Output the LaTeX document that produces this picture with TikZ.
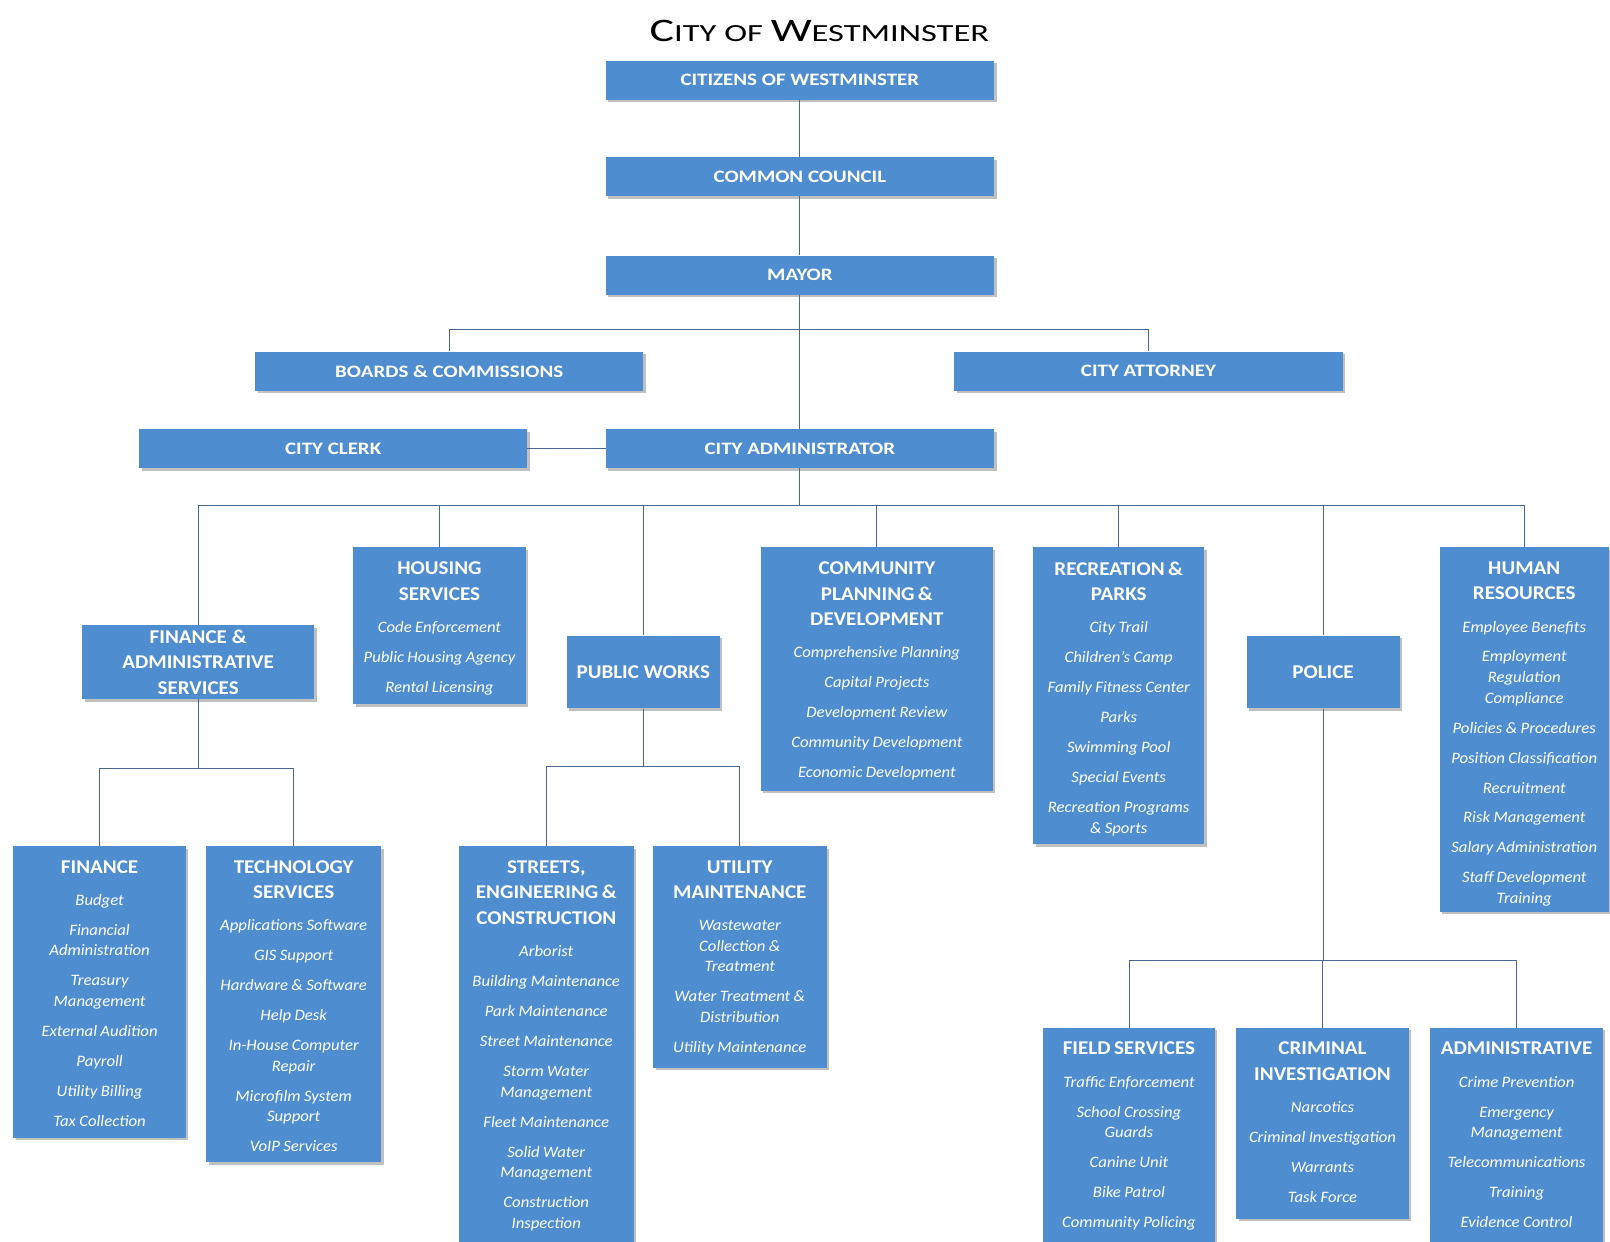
\documentclass[tikz,border=0pt]{standalone}
\usepackage{fontspec}
\setmainfont{Carlito}
\newfontfamily\titlef[FakeStretch=1.4]{Carlito}
\newfontfamily\topf[FakeStretch=1.2]{Carlito}
\newfontfamily\hdf[FakeStretch=1.08]{Carlito}
\newfontfamily\itf[FakeStretch=1.05]{Carlito}
\usetikzlibrary{shadows,fit}
\definecolor{boxblue}{RGB}{79,141,209}
\definecolor{linec}{RGB}{70,105,150}
\newcommand\hdr[1]{{\hdf\bfseries\fontsize{19}{25}\selectfont #1\par}\vspace{2pt}}
\newcommand\itm[1]{\vspace{9.2pt}{\itf\itshape\fontsize{15.5}{20}\selectfont #1\par}}
\tikzset{
  box/.style={fill=boxblue, draw=none, inner sep=0pt,
    drop shadow={shadow xshift=2.5pt, shadow yshift=-2.5pt, opacity=0.35, fill=black!70}},
  toplbl/.style={box, minimum width=378pt, minimum height=38pt, text=white,
    font=\topf\bfseries\fontsize{17}{20}\selectfont},
  hdbox/.style={box, text=white, align=center, font=\hdf\bfseries\fontsize{19}{25}\selectfont},
  txt/.style={text=white, align=center, inner sep=0pt, anchor=north, text width=200pt},
  conn/.style={draw=linec, line width=0.9pt},
}
\begin{document}
\begin{tikzpicture}[x=1pt,y=-1pt]
\useasboundingbox (0,0) rectangle (1568,1209);
\fill[white] (0,0) rectangle (1568,1209);

\node[anchor=base] (title) at (798,40) {\titlef\fontsize{32}{36}\selectfont C\fontsize{24}{28}\selectfont ITY OF \fontsize{32}{36}\selectfont W\fontsize{24}{28}\selectfont ESTMINSTER};

% top chain
\node[toplbl] (cit) at (779,78) {CITIZENS OF WESTMINSTER};
\node[toplbl] (coun) at (779,172) {COMMON COUNCIL};
\node[toplbl] (mayor) at (779,268) {MAYOR};
\node[toplbl] (boards) at (437.5,361.5) {BOARDS \& COMMISSIONS};
\node[toplbl] (atty) at (1118.5,361.5) {CITY ATTORNEY};
\node[toplbl] (clerk) at (324.5,437) {CITY CLERK};
\node[toplbl] (cadm) at (779,437) {CITY ADMINISTRATOR};

% departments
\node[hdbox, minimum width=226pt, minimum height=72pt] (fas) at (193,645) {FINANCE \&\\ADMINISTRATIVE\\SERVICES};
\node[hdbox, minimum width=149pt, minimum height=71pt] (pw) at (626.5,654.5) {PUBLIC WORKS};
\node[hdbox, minimum width=149pt, minimum height=71pt] (pol) at (1288.5,654.5) {POLICE};

\node[box, fit={(344,533) (512,686)}] (hou) {};
\node[txt] at ([yshift=-14pt]hou.north) {\hdr{HOUSING\\SERVICES}\itm{Code Enforcement}\itm{Public Housing Agency}\itm{Rental Licensing}};

\node[box, fit={(741,533) (967,770)}] (cpd) {};
\node[txt] at ([yshift=-14pt]cpd.north) {\hdr{COMMUNITY\\PLANNING \&\\DEVELOPMENT}\itm{Comprehensive Planning}\itm{Capital Projects}\itm{Development Review}\itm{Community Development}\itm{Economic Development}};

\node[box, fit={(1006,533) (1173,822)}] (rec) {};
\node[txt] at ([yshift=-14pt]rec.north) {\hdr{RECREATION \&\\PARKS}\itm{City Trail}\itm{Children’s Camp}\itm{Family Fitness Center}\itm{Parks}\itm{Swimming Pool}\itm{Special Events}\itm{Recreation Programs\\\& Sports}};

\node[box, fit={(1402,533) (1567,888)}] (hr) {};
\node[txt] at ([yshift=-14pt]hr.north) {\hdr{HUMAN\\RESOURCES}\itm{Employee Benefits}\itm{Employment\\Regulation\\Compliance}\itm{Policies \& Procedures}\itm{Position Classification}\itm{Recruitment}\itm{Risk Management}\itm{Salary Administration}\itm{Staff Development\\Training}};

% finance sub
\node[box, fit={(13,824) (181,1108)}] (fin) {};
\node[txt] at ([yshift=-14pt]fin.north) {\hdr{FINANCE}\itm{Budget}\itm{Financial\\Administration}\itm{Treasury\\Management}\itm{External Audition}\itm{Payroll}\itm{Utility Billing}\itm{Tax Collection}};

\node[box, fit={(201,824) (371,1132)}] (tech) {};
\node[txt] at ([yshift=-14pt]tech.north) {\hdr{TECHNOLOGY\\SERVICES}\itm{Applications Software}\itm{GIS Support}\itm{Hardware \& Software}\itm{Help Desk}\itm{In-House Computer\\Repair}\itm{Microfilm System\\Support}\itm{VoIP Services}};

% public works sub
\node[box, fit={(447,824) (617,1216)}] (sec) {};
\node[txt] at ([yshift=-14pt]sec.north) {\hdr{STREETS,\\ENGINEERING \&\\CONSTRUCTION}\itm{Arborist}\itm{Building Maintenance}\itm{Park Maintenance}\itm{Street Maintenance}\itm{Storm Water\\Management}\itm{Fleet Maintenance}\itm{Solid Water\\Management}\itm{Construction\\Inspection}};

\node[box, fit={(636,824) (805,1040)}] (util) {};
\node[txt] at ([yshift=-14pt]util.north) {\hdr{UTILITY\\MAINTENANCE}\itm{Wastewater\\Collection \&\\Treatment}\itm{Water Treatment \&\\Distribution}\itm{Utility Maintenance}};

% police sub
\node[box, fit={(1016,1001) (1183,1216)}] (field) {};
\node[txt] at ([yshift=-14pt]field.north) {\hdr{FIELD SERVICES}\itm{Traffic Enforcement}\itm{School Crossing\\Guards}\itm{Canine Unit}\itm{Bike Patrol}\itm{Community Policing}};

\node[box, fit={(1204,1001) (1372,1187)}] (crim) {};
\node[txt] at ([yshift=-14pt]crim.north) {\hdr{CRIMINAL\\INVESTIGATION}\itm{Narcotics}\itm{Criminal Investigation}\itm{Warrants}\itm{Task Force}};

\node[box, fit={(1393,1001) (1561,1216)}] (padm) {};
\node[txt] at ([yshift=-14pt]padm.north) {\hdr{ADMINISTRATIVE}\itm{Crime Prevention}\itm{Emergency\\Management}\itm{Telecommunications}\itm{Training}\itm{Evidence Control}};

% connectors
\coordinate (j1) at (779,321);
\coordinate (j2) at (779,492);
\coordinate (j3) at (193,748);
\coordinate (j4) at (626.5,746);
\coordinate (j5) at (1288.5,935);
\draw[conn] (cit) -- (coun);
\draw[conn] (coun) -- (mayor);
\draw[conn] (mayor) -- (cadm);
\draw[conn] (boards.north) |- (j1) -| (atty.north);
\draw[conn] (clerk) -- (cadm);
\draw[conn] (cadm) -- (j2);
\foreach \n in {fas,hou,pw,cpd,rec,pol,hr} \draw[conn] (j2) -| (\n.north);
\draw[conn] (fas) -- (j3);
\draw[conn] (j3) -| (fin.north);
\draw[conn] (j3) -| (tech.north);
\draw[conn] (pw) -- (j4);
\draw[conn] (j4) -| (sec.north);
\draw[conn] (j4) -| (util.north);
\draw[conn] (pol) -- (j5);
\draw[conn] (j5) -| (field.north);
\draw[conn] (j5) -| (crim.north);
\draw[conn] (j5) -| (padm.north);
\end{tikzpicture}
\end{document}
